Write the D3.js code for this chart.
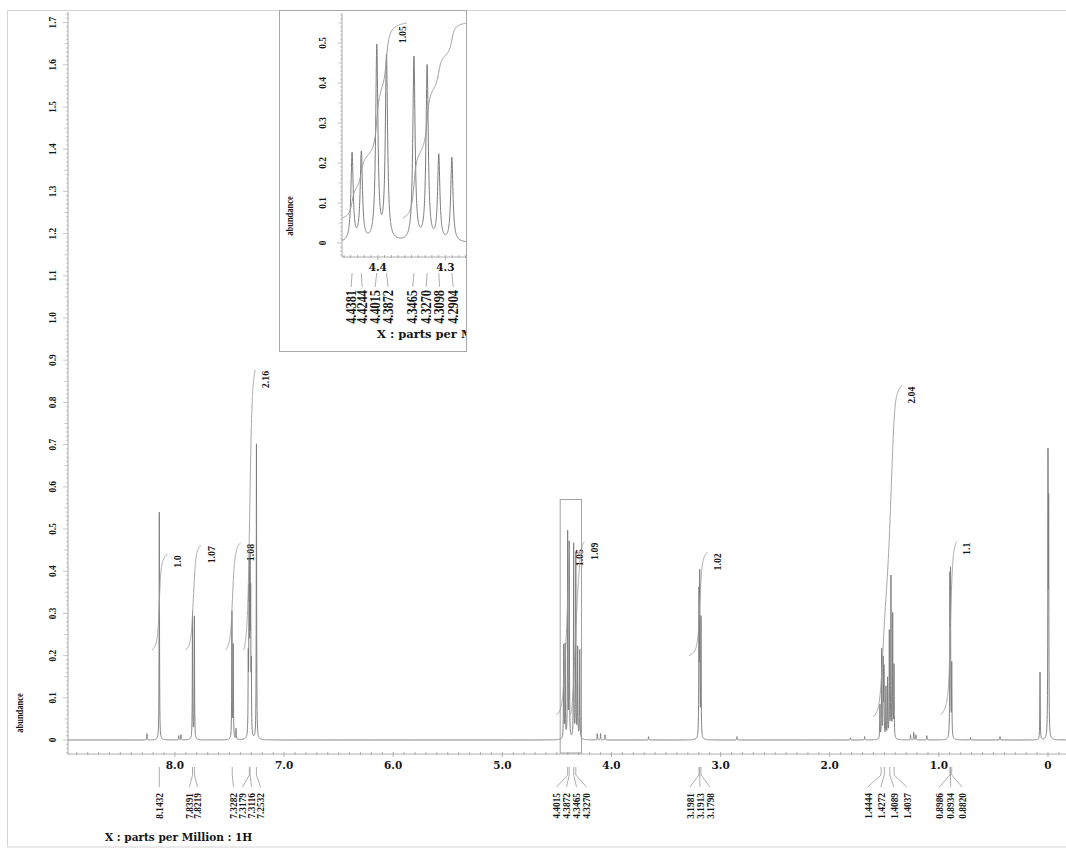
<!DOCTYPE html>
<html><head><meta charset="utf-8">
<script src="https://cdn.jsdelivr.net/npm/d3@7/dist/d3.min.js"></script>
<style>body{margin:0;background:#fff}svg{display:block}</style>
</head><body>
<svg id="c" width="1066" height="850"></svg>
<script>
// ---------------- data ----------------
const peakPpm = [8.256, 8.1432, 7.965, 7.945, 7.8391, 7.8219, 7.478, 7.466, 7.44,
  7.3282, 7.322, 7.3179, 7.3116, 7.306, 7.300, 7.2532,
  4.4381, 4.4244, 4.4015, 4.3872, 4.3465, 4.3270, 4.3098, 4.2904,
  4.13, 4.10, 4.06, 3.66, 3.1981, 3.1913, 3.1798, 2.85, 1.81, 1.68,
  1.54, 1.524, 1.51, 1.503, 1.485, 1.47, 1.454, 1.439, 1.423, 1.411,
  1.26, 1.23, 1.21, 1.11, 0.8986, 0.8934, 0.8820, 0.71, 0.44, 0.073, 0.0, -0.006];
const peakHeight = [0.015, 0.54, 0.010, 0.012, 0.30, 0.29, 0.30, 0.22, 0.025,
  0.17, 0.27, 0.33, 0.36, 0.30, 0.15, 0.70,
  0.22, 0.22, 0.485, 0.46, 0.46, 0.437, 0.213, 0.21,
  0.015, 0.015, 0.012, 0.008, 0.33, 0.37, 0.28, 0.008, 0.005, 0.008,
  0.08, 0.21, 0.18, 0.16, 0.12, 0.14, 0.25, 0.38, 0.29, 0.17,
  0.012, 0.018, 0.012, 0.010, 0.35, 0.36, 0.17, 0.006, 0.008, 0.16, 0.64, 0.52];

const integralLabel = ["1.0", "1.07", "1.08", "2.16", "1.05", "1.09", "1.02", "2.04", "1.1"];
const integralFrom  = [8.21, 7.905, 7.54, 7.37, 4.50, 4.375, 3.29, 1.60, 0.985];
const integralTo    = [8.07, 7.76, 7.40, 7.265, 4.385, 4.25, 3.12, 1.34, 0.84];
const integralLow   = [0.213, 0.213, 0.213, 0.213, 0.06, 0.06, 0.20, 0.055, 0.06];
const integralHigh  = [0.44, 0.462, 0.467, 0.877, 0.455, 0.47, 0.445, 0.84, 0.47];

const peakLabelGroups = [["8.1432"], ["7.8391", "7.8219"], ["7.3282", "7.3179", "7.3116", "7.2532"],
  ["4.4015", "4.3872", "4.3465", "4.3270"], ["3.1981", "3.1913", "3.1798"],
  ["1.4444", "1.4272", "1.4089", "1.4037"], ["0.8986", "0.8934", "0.8820"]];
const peakLabelPpm = [[8.1432], [7.8391, 7.8219], [7.475, 7.3179, 7.3116, 7.2532],
  [4.4015, 4.3872, 4.3465, 4.3270], [3.1981, 3.1913, 3.1798],
  [1.53, 1.50, 1.45, 1.41], [0.8986, 0.8934, 0.8820]];

const xTickLabels = ["8.0", "7.0", "6.0", "5.0", "4.0", "3.0", "2.0", "1.0", "0"];
const yTickLabels = ["0", "0.1", "0.2", "0.3", "0.4", "0.5", "0.6", "0.7", "0.8", "0.9", "1.0", "1.1", "1.2", "1.3", "1.4", "1.5", "1.6", "1.7"];

// inset (zoom of 4.4 ppm region)
const zoomRegion = [4.47, 4.275, 0.57];
const insetXTickLabels = ["4.4", "4.3"];
const insetYTickLabels = ["0", "0.1", "0.2", "0.3", "0.4", "0.5"];
const insetIntegralLabel = ["1.05", ""];
const insetIntegralFrom = [4.453, 4.363];
const insetIntegralTo = [4.357, 4.268];
const insetIntegralLow = [0.0625, 0.0625];
const insetIntegralHigh = [0.55, 0.55];
const insetLabelGroups = [["4.4381", "4.4244"], ["4.4015", "4.3872"], ["4.3465", "4.3270", "4.3098", "4.2904"]];

const xTitle = "X : parts per Million : 1H";
const yTitle = "abundance";

// ---------------- drawing ----------------
const svg = d3.select("#c");
const GRAY = "#7c7c7c", TXT = "#151515";
const NUMFONT = "'Liberation Serif', 'Times New Roman', serif";
const AXFONT = "'DejaVu Serif', serif";
const GAMMA = 0.002;

function spectrum(p) {
  let s = 0;
  for (let i = 0; i < peakPpm.length; i++) {
    const d = (p - peakPpm[i]) / GAMMA;
    s += peakHeight[i] / (1 + d * d);
  }
  return s;
}
function samples(a, b, step) {
  const pts = [];
  for (let p = a; p >= b; p -= step) pts.push(p);
  peakPpm.forEach(c => { if (c <= a && c >= b) pts.push(c); });
  pts.sort((u, v) => v - u);
  return pts;
}
function integralCurve(from, to, lo, hi, g, n) {
  const idx = d3.range(peakPpm.length).filter(i => peakPpm[i] <= from && peakPpm[i] >= to);
  const S = p => d3.sum(idx, i => peakHeight[i] * (0.5 + Math.atan((peakPpm[i] - p) / g) / Math.PI));
  const s0 = S(from), s1 = S(to);
  return d3.range(n + 1).map(k => {
    const p = from + (to - from) * k / n;
    return [p, lo + (hi - lo) * (S(p) - s0) / (s1 - s0)];
  });
}
function vtext(g, x, y, txt, size, sx, anchor, family) {
  return g.append("text")
    .attr("transform", `translate(${x},${y}) rotate(-90) scale(${sx},1)`)
    .attr("text-anchor", anchor).attr("dominant-baseline", "central")
    .attr("font-family", family || NUMFONT).attr("font-weight", "bold")
    .attr("font-size", size).attr("fill", TXT).text(txt);
}

// outer frame
svg.append("rect").attr("x", 7.5).attr("y", 10.5).attr("width", 1070).attr("height", 836.5)
  .attr("fill", "none").attr("stroke", "#d4d4d4");

// ---- main plot ----
const x = d3.scaleLinear().domain([8.98, -0.165]).range([68, 1066]);
const y = d3.scaleLinear().domain([0, 1.7]).range([740, 22.6]);

const defs = svg.append("defs");
defs.append("clipPath").attr("id", "mainClip").append("rect")
  .attr("x", 68).attr("y", 0).attr("width", 1000).attr("height", 754);
defs.append("clipPath").attr("id", "insetClip").append("rect")
  .attr("x", 342).attr("y", 11).attr("width", 124.5).attr("height", 246);
defs.append("clipPath").attr("id", "insetFrameClip").append("rect")
  .attr("x", 280).attr("y", 11).attr("width", 186).attr("height", 340);

const main = svg.append("g");
// y axis
main.append("line").attr("x1", 68).attr("x2", 68).attr("y1", 12).attr("y2", 755).attr("stroke", "#a8a8a8");
d3.range(-3, 173).forEach(k => {
  const v = k / 100, len = k % 10 === 0 ? 5 : (k % 5 === 0 ? 3.5 : 2);
  main.append("line").attr("x1", 68 - len).attr("x2", 68).attr("y1", y(v)).attr("y2", y(v))
    .attr("stroke", "#b0b0b0").attr("stroke-width", 0.7);
});
yTickLabels.forEach((t, i) => vtext(main, 52, y(i / 10), t, 11, 0.85, "middle"));
vtext(main, 20, 713, yTitle, 10, 0.85, "middle");

// x axis
main.append("line").attr("x1", 68).attr("x2", 1066).attr("y1", 754).attr("y2", 754).attr("stroke", "#b0b0b0");
d3.range(-1, 90).forEach(k => {
  const p = k / 10, len = k % 10 === 0 ? 5 : 3;
  main.append("line").attr("x1", x(p)).attr("x2", x(p)).attr("y1", 752).attr("y2", 752 + len)
    .attr("stroke", "#a0a0a0").attr("stroke-width", 0.8);
});
xTickLabels.forEach((t, i) => main.append("text").attr("x", x(8 - i)).attr("y", 769)
  .attr("text-anchor", "middle").attr("font-family", AXFONT).attr("font-weight", "bold")
  .attr("font-size", 10.5).attr("fill", TXT).text(t));
main.append("text").attr("x", 105).attr("y", 841).attr("font-family", AXFONT).attr("font-weight", "bold")
  .attr("font-size", 10.5).attr("fill", TXT).text(xTitle);

// spectrum
const line = d3.line().x(d => x(d)).y(d => y(spectrum(d)));
main.append("path").attr("clip-path", "url(#mainClip)")
  .attr("d", line(samples(8.98, -0.165, 0.001)))
  .attr("fill", "none").attr("stroke", GRAY).attr("stroke-width", 0.95);

// zoom box
main.append("rect").attr("x", x(zoomRegion[0])).attr("y", y(zoomRegion[2]))
  .attr("width", x(zoomRegion[1]) - x(zoomRegion[0])).attr("height", 753 - y(zoomRegion[2]))
  .attr("fill", "none").attr("stroke", "#9a9a9a").attr("stroke-width", 0.9);

// integrals
const iline = d3.line().x(d => x(d[0])).y(d => y(d[1]));
integralLabel.forEach((lab, i) => {
  const pts = integralCurve(integralFrom[i], integralTo[i], integralLow[i], integralHigh[i], 0.012, 240);
  main.append("path").attr("d", iline(pts)).attr("fill", "none").attr("stroke", "#9a9a9a").attr("stroke-width", 0.9);
  vtext(main, x(integralTo[i]) + 10, y(integralHigh[i]) + 1, lab, 11, 0.9, "end");
});

// peak labels
const gaps = [8, 8, 9, 10, 10, 13, 11.5];
peakLabelGroups.forEach((grp, gi) => {
  const px = peakLabelPpm[gi].map(p => x(p));
  const cx = d3.mean(px);
  grp.forEach((t, j) => {
    const lx = grp.length === 1 ? px[j] : cx + (j - (grp.length - 1) / 2) * gaps[gi];
    if (grp.length === 1) {
      main.append("line").attr("x1", px[j]).attr("x2", px[j]).attr("y1", 767).attr("y2", 787)
        .attr("stroke", "#999").attr("stroke-width", 0.8);
    } else {
      main.append("line").attr("x1", px[j]).attr("x2", px[j]).attr("y1", 767).attr("y2", 775)
        .attr("stroke", "#999").attr("stroke-width", 0.8);
      main.append("line").attr("x1", px[j]).attr("x2", lx).attr("y1", 775).attr("y2", 787)
        .attr("stroke", "#999").attr("stroke-width", 0.8);
    }
    vtext(main, lx, 793, t, 11, 0.85, "end");
  });
});

// ---- inset ----
const ins = svg.append("g");
ins.append("rect").attr("x", 279.5).attr("y", 10.5).attr("width", 187).attr("height", 341)
  .attr("fill", "#fff").attr("stroke", "#a8a8a8");
const xi = d3.scaleLinear().domain([4.453, 4.268]).range([342, 467]);
const yi = d3.scaleLinear().domain([0, 0.5]).range([243, 43]);

ins.append("line").attr("x1", 342).attr("x2", 342).attr("y1", 13).attr("y2", 257).attr("stroke", "#a8a8a8");
d3.range(-3, 58).forEach(k => {
  const v = k / 100, len = k % 10 === 0 ? 5 : (k % 5 === 0 ? 3.5 : 2);
  ins.append("line").attr("x1", 342 - len).attr("x2", 342).attr("y1", yi(v)).attr("y2", yi(v))
    .attr("stroke", "#b0b0b0").attr("stroke-width", 0.7);
});
insetYTickLabels.forEach((t, i) => vtext(ins, 322, yi(i / 10), t, 11, 0.85, "middle"));
vtext(ins, 290, 216, yTitle, 10, 0.85, "middle");

ins.append("line").attr("x1", 342).attr("x2", 466).attr("y1", 257).attr("y2", 257).attr("stroke", "#b0b0b0");
d3.range(427, 446).forEach(k => {
  const p = k / 100, len = k % 10 === 0 ? 5 : 3;
  ins.append("line").attr("x1", xi(p)).attr("x2", xi(p)).attr("y1", 255).attr("y2", 255 + len)
    .attr("stroke", "#a0a0a0").attr("stroke-width", 0.8);
});
insetXTickLabels.forEach(t => ins.append("text").attr("x", xi(+t)).attr("y", 271)
  .attr("text-anchor", "middle").attr("font-family", AXFONT).attr("font-weight", "bold")
  .attr("font-size", 10.5).attr("fill", TXT).text(t));
ins.append("text").attr("clip-path", "url(#insetFrameClip)").attr("x", 377).attr("y", 338)
  .attr("font-family", AXFONT).attr("font-weight", "bold").attr("font-size", 11.5).attr("fill", TXT).text(xTitle);

const lineI = d3.line().x(d => xi(d)).y(d => yi(spectrum(d)));
ins.append("path").attr("clip-path", "url(#insetClip)")
  .attr("d", lineI(samples(4.453, 4.268, 0.0002)))
  .attr("fill", "none").attr("stroke", GRAY).attr("stroke-width", 1);

const ilineI = d3.line().x(d => xi(d[0])).y(d => yi(d[1]));
insetIntegralLabel.forEach((lab, i) => {
  const pts = integralCurve(insetIntegralFrom[i], insetIntegralTo[i], insetIntegralLow[i], insetIntegralHigh[i], 0.003, 300);
  ins.append("path").attr("clip-path", "url(#insetClip)").attr("d", ilineI(pts))
    .attr("fill", "none").attr("stroke", "#9a9a9a").attr("stroke-width", 1);
  if (lab) vtext(ins, xi(insetIntegralTo[i]) - 5, yi(insetIntegralHigh[i]) + 3, lab, 11, 0.9, "end");
});

const igaps = [11, 13, 13.5];
insetLabelGroups.forEach((grp, gi) => {
  const px = grp.map(t => xi(+t));
  const cx = d3.mean(px);
  grp.forEach((t, j) => {
    const lx = cx + (j - (grp.length - 1) / 2) * igaps[gi];
    ins.append("line").attr("x1", px[j]).attr("x2", lx).attr("y1", 273).attr("y2", 287)
      .attr("stroke", "#999").attr("stroke-width", 0.8);
    vtext(ins, lx, 290, t, 14, 0.88, "end");
  });
});
</script>
</body></html>
